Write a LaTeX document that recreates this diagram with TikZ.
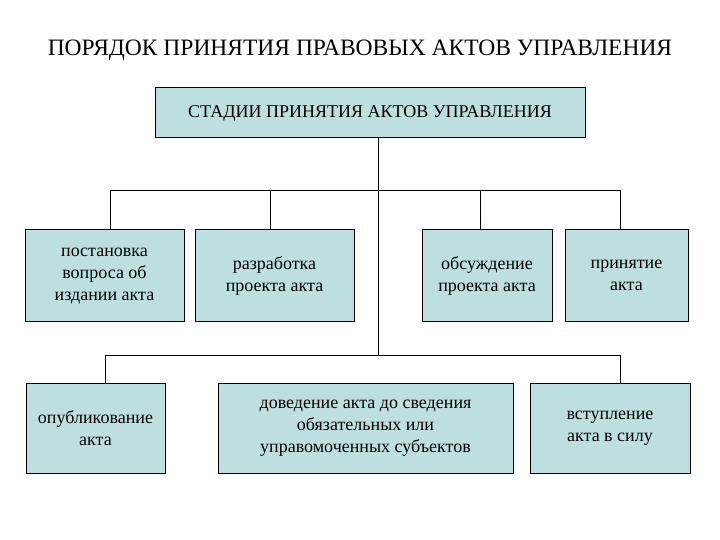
\documentclass[tikz,border=0pt]{standalone}
\usepackage{fontspec}
\setmainfont{Liberation Serif}
\definecolor{boxfill}{HTML}{BEDFE0}
\begin{document}
\begin{tikzpicture}[x=1pt,y=-1pt,
  box/.style={draw=black,line width=1pt,fill=boxfill,align=center,inner sep=0pt,font=\fontsize{18}{22}\selectfont},
  conn/.style={line width=0.8pt}]
\useasboundingbox (0,0) rectangle (720,540);
\node[font=\fontsize{23.5}{27}\selectfont] (title) at (360,50) {ПОРЯДОК ПРИНЯТИЯ ПРАВОВЫХ АКТОВ УПРАВЛЕНИЯ};
\node[box,minimum width=430,minimum height=50] (top) at (370,113) {СТАДИИ ПРИНЯТИЯ АКТОВ УПРАВЛЕНИЯ};
\node[box,minimum width=159,minimum height=91] (b1) at (104.5,275.5) {постановка\\вопроса об\\издании акта};
\node[box,minimum width=159,minimum height=91] (b2) at (274.5,275.5) {разработка\\проекта акта};
\node[box,minimum width=130,minimum height=91] (b3) at (487,275.5) {обсуждение\\проекта акта};
\node[box,minimum width=123,minimum height=91] (b4) at (626.5,275.5) {принятие\\акта};
\node[box,minimum width=139,minimum height=90] (b5) at (95.5,428) {опубликование\\акта};
\node[box,minimum width=295,minimum height=90] (b6) at (365.5,428) {доведение акта до сведения\\обязательных или\\управомоченных субъектов};
\node[box,minimum width=160,minimum height=90] (b7) at (610,428) {вступление\\акта в силу};
\coordinate (j1) at (378,190);
\coordinate (j2) at (378,355);
\draw[conn] (top.south -| j1) -- (j2);
\draw[conn] (110,190) coordinate (l1) -- (620,190) coordinate (r1);
\draw[conn] (l1) -- (l1 |- b1.north);
\draw[conn] (270,190) -- (270,230);
\draw[conn] (480,190) -- (480,230);
\draw[conn] (r1) -- (r1 |- b4.north);
\draw[conn] (105,355) coordinate (l2) -- (620,355) coordinate (r2);
\draw[conn] (l2) -- (l2 |- b5.north);
\draw[conn] (r2) -- (r2 |- b7.north);
\end{tikzpicture}
\end{document}
